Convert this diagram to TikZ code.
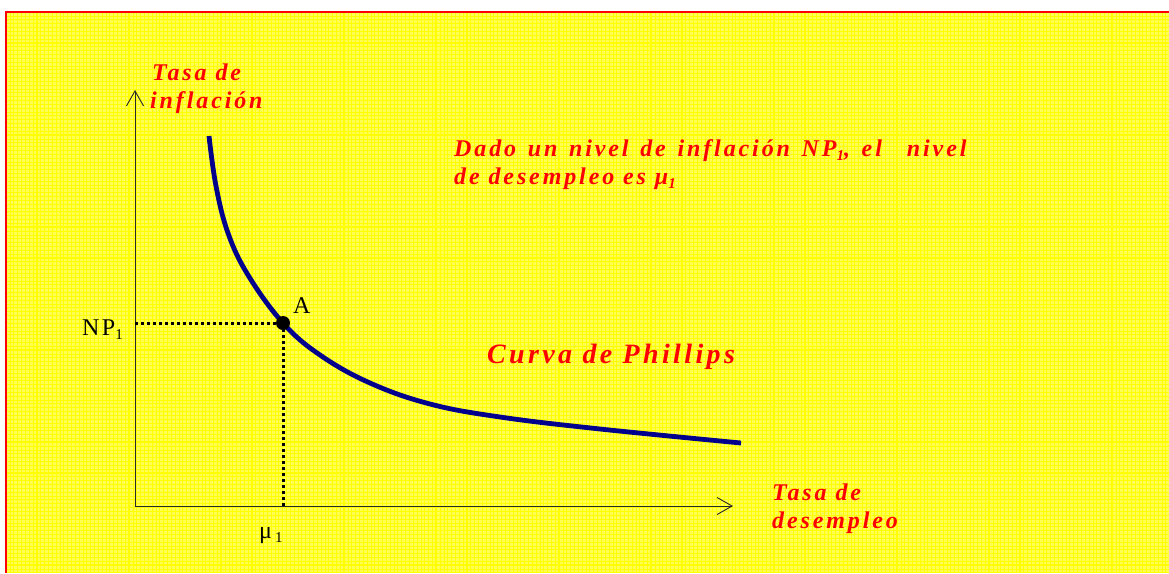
\documentclass[tikz,border=0pt]{standalone}
\usepackage{fontspec}
\setmainfont{Liberation Serif}
\newfontfamily\redfont[LetterSpace=12]{Liberation Serif}
\newfontfamily\blkfont[LetterSpace=10]{Liberation Serif}
\usetikzlibrary{arrows.meta}
\definecolor{bgyellow}{RGB}{255,255,85}
\definecolor{gridyellow}{RGB}{255,255,0}
\definecolor{curveblue}{RGB}{0,0,140}
\definecolor{txtred}{RGB}{255,0,0}
\definecolor{axisgray}{RGB}{40,40,40}
\newcommand\lowsub[1]{\raisebox{-4pt}{\fontsize{15}{15}\selectfont #1}}
\newcommand\wgap{\hspace{11.7pt}}
\tikzset{
  redlabel/.style={anchor=base west, inner sep=0pt, text=txtred,
    font=\redfont\bfseries\itshape\fontsize{24}{28}\selectfont},
  biglabel/.style={redlabel, font=\redfont\bfseries\itshape\fontsize{28}{32}\selectfont},
  blklabel/.style={anchor=base west, inner sep=0pt, text=black,
    font=\blkfont\fontsize{24}{28}\selectfont},
  axisline/.style={draw=axisgray, line width=0.9pt, -{Straight Barb[length=15pt,width=17pt]}},
  dotline/.style={draw=black, line width=3pt, dash pattern=on 3pt off 3pt},
  curveline/.style={draw=curveblue, line width=4.8pt},
  minorline/.style={draw=gridyellow, line width=0.4pt},
  majorline/.style={draw=gridyellow, line width=1.3pt},
}
\begin{document}
\begin{tikzpicture}[x=1pt,y=-1pt]
\useasboundingbox (0,0) rectangle (1169,573);
\fill[white] (0,0) rectangle (1169,573);
\fill[bgyellow] (6,12) rectangle (1169,573);
% minor grid
\draw[minorline] \foreach \i in {0,...,302}{ ({6+\i*3.84},12) -- ({6+\i*3.84},573) };
\draw[minorline] \foreach \i in {0,...,146}{ (6,{12+\i*3.84}) -- (1169,{12+\i*3.84}) };
% major grid
\draw[majorline] \foreach \i in {1,...,37}{ ({6+\i*30.72},12) -- ({6+\i*30.72},573) };
\draw[majorline] \foreach \i in {1,...,18}{ (6,{12+\i*30.72}) -- (1169,{12+\i*30.72}) };
% border
\draw[txtred, line width=2pt] (6,573) -- (6,12) -- (1169,12);

% axes
\coordinate (O) at (135,506);
\coordinate (ytip) at (135,90);
\coordinate (xtip) at (733,506);
\draw[axisline] (O) -- (ytip);
\draw[axisline] (O) -- (xtip);

% point A and guides
\coordinate (A) at (283,323);
\coordinate (yA) at (135,323);
\coordinate (xA) at (283,506);
\draw[dotline] (yA) -- (A);
\draw[dotline] (A) -- (xA);

% Phillips curve
\draw[curveline] plot[smooth, tension=0.65] coordinates {
  (209,136) (216,186) (228,233) (248,275) (A)
  (320,355) (370,383) (430,404) (500,417) (600,429) (741,443)};
\node[circle, fill=black, minimum size=14pt, inner sep=0pt] (Adot) at (A) {};

% labels
\node[blklabel] (alab) at (293,313) {A};
\node[blklabel, anchor=base east] (np) at (123,335) {NP\lowsub{1}};
\node[blklabel] (mu) at (259,538) {μ\hspace{3pt}\lowsub{1}};

\node[redlabel] (ylab1) at (152,80) {Tasa de};
\node[redlabel] (ylab2) at (150,108) {inflación};
\node[redlabel] (note1) at (454,156) {Dado\wgap un\wgap nivel\wgap de\wgap inflación\wgap NP\lowsub{1},\wgap el\hspace{25pt}nivel};
\node[redlabel] (note2) at (454,184) {de desempleo es μ\lowsub{1}};
\node[biglabel] (cname) at (487,363) {Curva de Phillips};
\node[redlabel] (xlab1) at (772,500) {Tasa de};
\node[redlabel] (xlab2) at (772,528) {desempleo};
\end{tikzpicture}
\end{document}
